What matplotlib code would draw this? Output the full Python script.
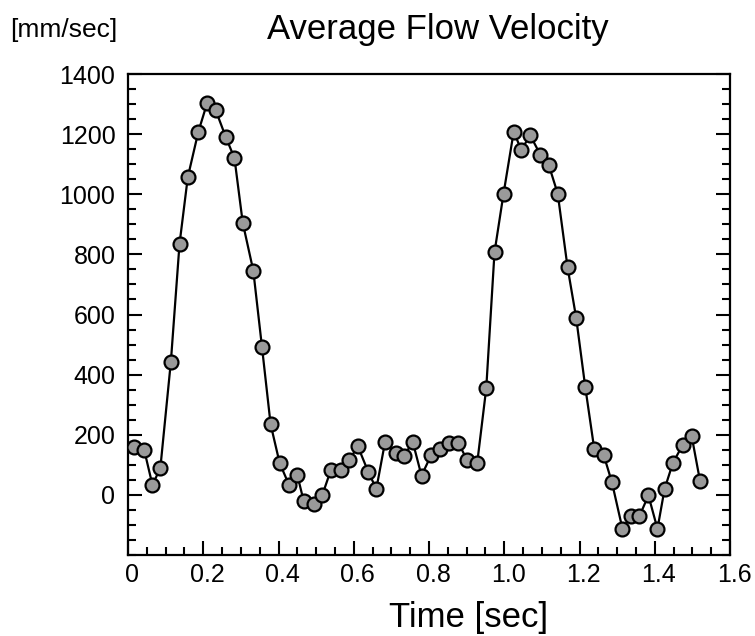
import numpy as np
import matplotlib
matplotlib.use("Agg")
import matplotlib.pyplot as plt
import matplotlib.transforms as mtransforms
from matplotlib.ticker import MultipleLocator

plt.rcParams['font.family'] = ['Liberation Sans', 'DejaVu Sans']

# time [sec] and average flow velocity [mm/sec]
time_sec = [0.015, 0.043, 0.065, 0.086, 0.114, 0.137, 0.159, 0.187, 0.210, 0.233,
            0.260, 0.283, 0.305, 0.333, 0.356, 0.379, 0.403, 0.428, 0.450, 0.467,
            0.494, 0.516, 0.539, 0.565, 0.588, 0.611, 0.639, 0.660, 0.683, 0.711,
            0.733, 0.757, 0.780, 0.806, 0.829, 0.853, 0.878, 0.901, 0.928, 0.952,
            0.974, 0.998, 1.025, 1.045, 1.069, 1.096, 1.118, 1.142, 1.168, 1.191,
            1.215, 1.239, 1.264, 1.286, 1.314, 1.336, 1.359, 1.383, 1.407, 1.426,
            1.448, 1.474, 1.498, 1.520]
velocity = [160, 150, 33, 89, 443, 835, 1057, 1208, 1302, 1280,
            1190, 1120, 905, 746, 493, 235, 106, 33, 66, -21,
            -30, -2, 82, 82, 117, 161, 75, 20, 175, 139,
            130, 175, 64, 133, 153, 172, 172, 117, 106, 354,
            807, 1002, 1208, 1148, 1196, 1131, 1098, 1002, 758, 589,
            360, 153, 133, 42, -113, -71, -71, -2, -113, 20,
            106, 166, 195, 47]

x_ticks = [0, 0.2, 0.4, 0.6, 0.8, 1.0, 1.2, 1.4, 1.6]
x_labels = ['0', '0.2', '0.4', '0.6', '0.8', '1.0', '1.2', '1.4', '1.6']
y_ticks = [0, 200, 400, 600, 800, 1000, 1200, 1400]

fig = plt.figure(figsize=(7.55, 6.36), dpi=100)
ax = fig.add_axes([0.1695, 0.1274, 0.7975, 0.7562])

ax.plot(time_sec, velocity, color='black', linewidth=1.6, marker='o',
        markersize=10, markerfacecolor='#9a9a9a', markeredgecolor='black',
        markeredgewidth=1.6, zorder=3)

ax.set_xlim(0, 1.6)
ax.set_ylim(-200, 1400)
ax.set_xticks(x_ticks)
ax.set_xticklabels(x_labels)
ax.set_yticks(y_ticks)
ax.xaxis.set_minor_locator(MultipleLocator(0.05))
ax.yaxis.set_minor_locator(MultipleLocator(50))

ax.tick_params(which='both', direction='in', top=False, right=True, width=1.5)
ax.tick_params(which='major', length=10, labelsize=18)
ax.tick_params(axis='x', pad=6)
ax.tick_params(axis='y', pad=9)
ax.tick_params(which='minor', length=6)
for sp in ax.spines.values():
    sp.set_linewidth(1.6)

# the reference labels sit a few pixels right of their ticks
shift = mtransforms.ScaledTranslation(4 / 100, 0, fig.dpi_scale_trans)
for lbl in ax.get_xticklabels():
    lbl.set_transform(lbl.get_transform() + shift)

fig.text(0.62, 0.029, 'Time [sec]', fontsize=25, ha='center', va='center')
fig.text(0.58, 0.953, 'Average Flow Velocity', fontsize=25, ha='center', va='center')
fig.text(0.014, 0.953, '[mm/sec]', fontsize=19, ha='left', va='center')

fig.savefig('out.png', dpi=100)
